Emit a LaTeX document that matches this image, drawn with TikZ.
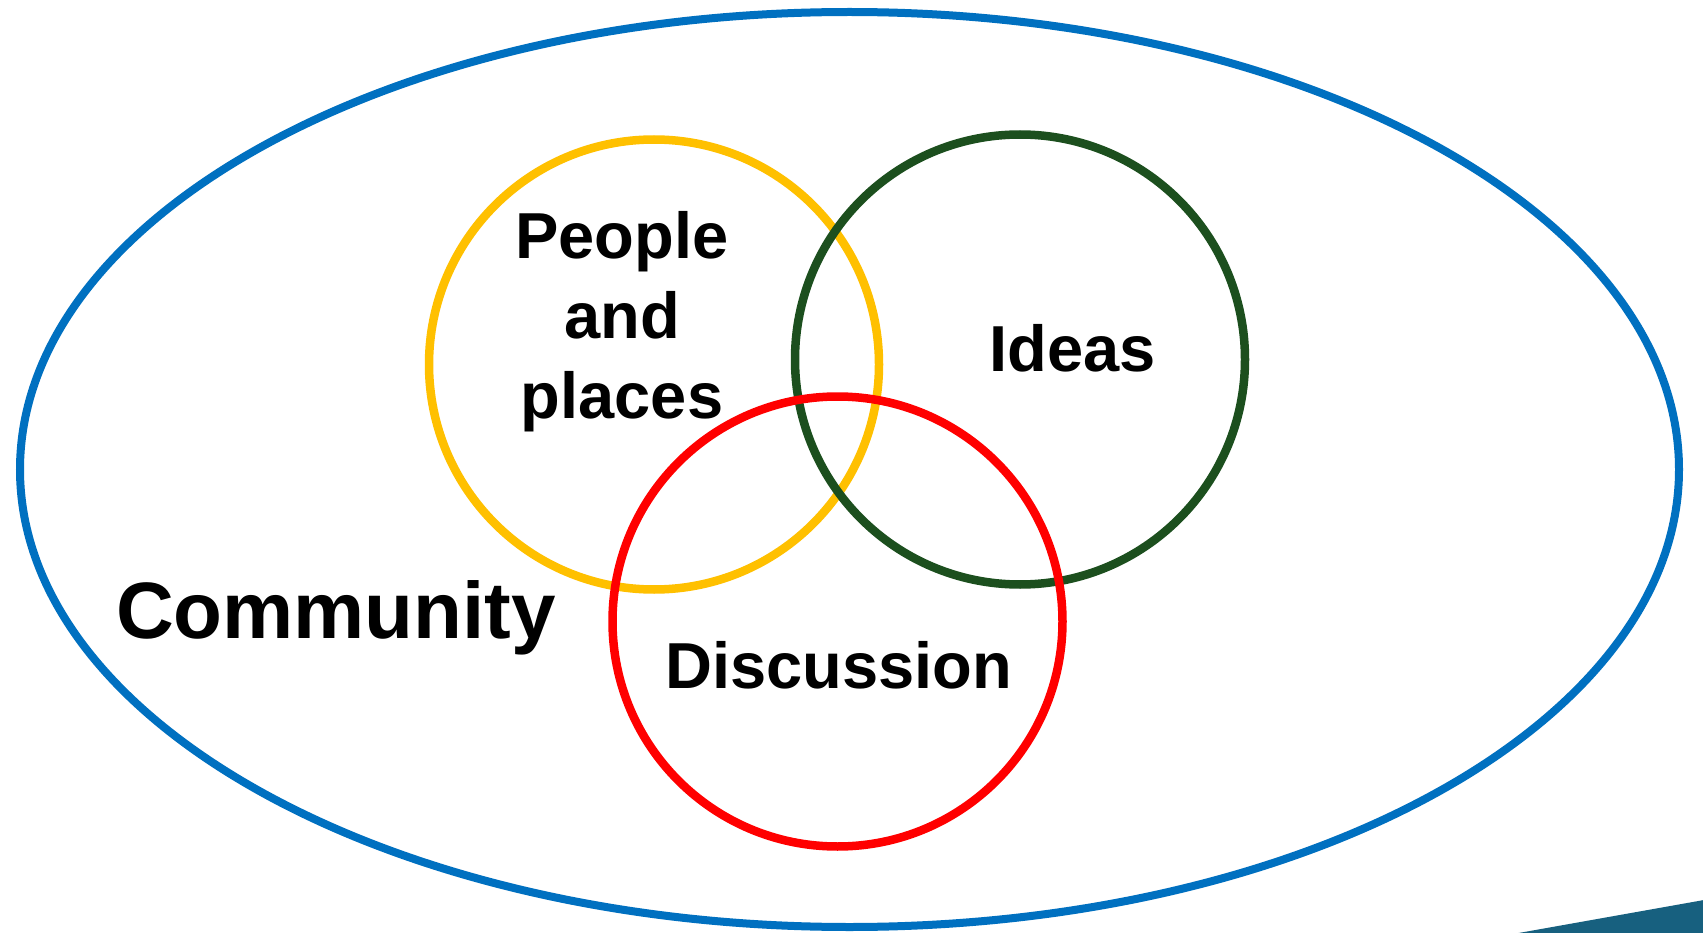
\documentclass[tikz,border=0pt]{standalone}
\usepackage{fontspec}
\setmainfont{Liberation Sans}
\definecolor{cblue}{HTML}{0070C0}
\definecolor{cyellow}{HTML}{FFC000}
\definecolor{cgreen}{HTML}{1C4F1E}
\definecolor{cred}{HTML}{FF0000}
\definecolor{cteal}{HTML}{17607F}
\begin{document}
\begin{tikzpicture}[x=1pt,y=-1pt,
  ring/.style={circle, draw, line width=8.5pt, minimum size=450pt, inner sep=0pt},
  lbl/.style={font=\bfseries\fontsize{65}{80}\selectfont, inner sep=0pt, align=center},
  biglbl/.style={font=\bfseries\fontsize{80}{96}\selectfont, inner sep=0pt}]
\useasboundingbox (0,0) rectangle (1703,933);
\fill[white] (0,0) rectangle (1703,933);
\draw[cblue, line width=8pt] (849.5,469.5) ellipse [x radius=829.5pt, y radius=457.5pt];
\fill[cteal] (1513,934) -- (1704,900) -- (1704,934) -- cycle;
\node[ring, draw=cyellow] (pp) at (654,364.5) {};
\node[ring, draw=cgreen] (id) at (1020,359.5) {};
\node[ring, draw=cred] (di) at (837.5,621.5) {};
\node[lbl] (tpp) at (622,321.5) {People\\and\\places};
\node[lbl, anchor=base] (tid) at (1072.5,371.5) {Ideas};
\node[lbl, anchor=base] (tdi) at (839,688.5) {Discussion};
\node[biglbl, anchor=base] (tco) at (336,638.5) {Community};
\end{tikzpicture}
\end{document}
